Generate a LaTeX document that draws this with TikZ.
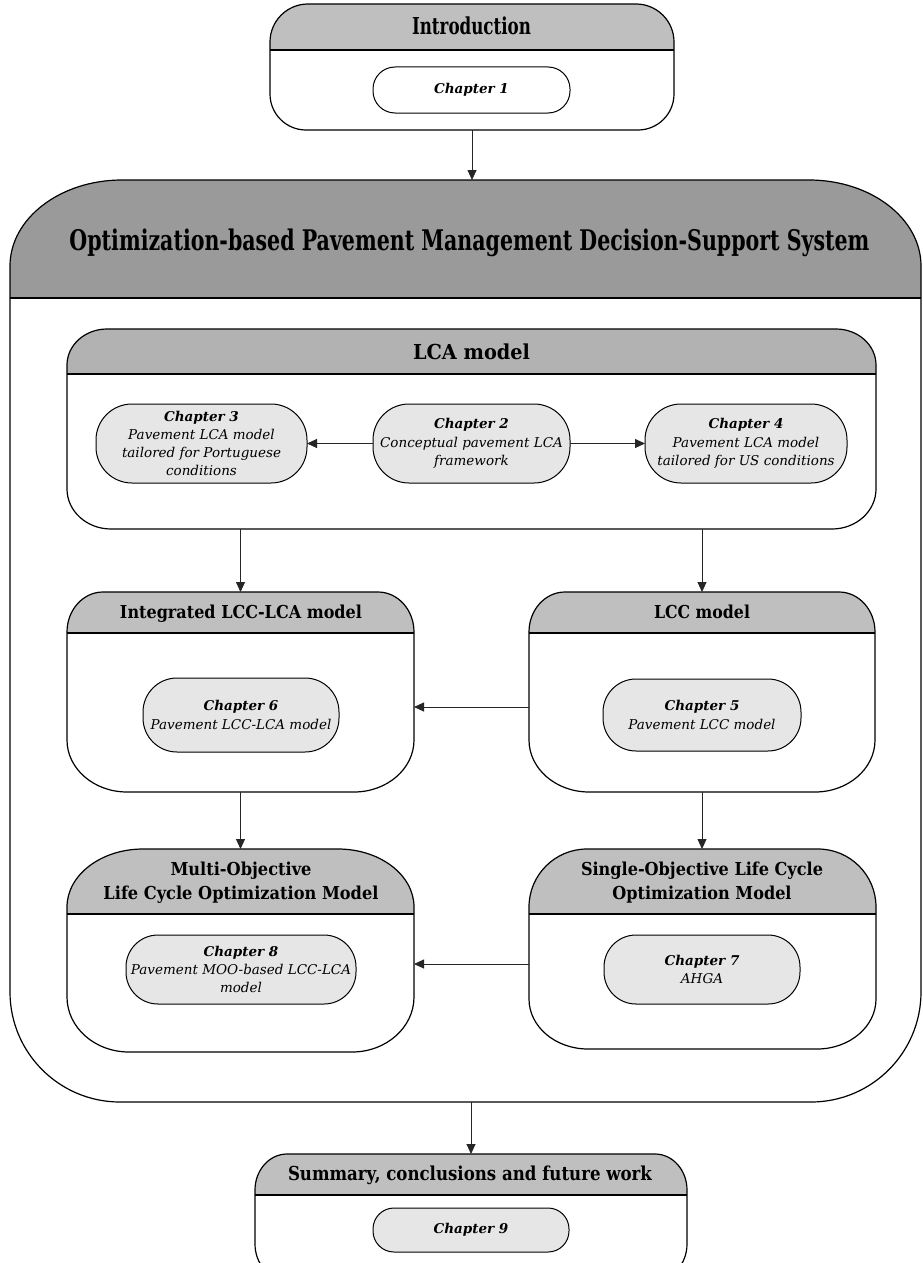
\documentclass[tikz,border=0pt]{standalone}
\usepackage{fontspec}
\setmainfont{DejaVu Serif}
\usepackage{graphicx}
\usetikzlibrary{arrows.meta}
\definecolor{hdrgray}{HTML}{BFBFBF}
\definecolor{biggray}{HTML}{9A9A9A}
\definecolor{lcagray}{HTML}{B2B2B2}
\definecolor{pillgray}{HTML}{E6E6E6}
\newcommand{\bxdims}[9]{\def\Bl{#1}\def\Bt{#2}\def\Br{#3}\def\Bb{#4}\def\Bd{#5}\def\Rxt{#6}\def\Ryt{#7}\def\Rxb{#8}\def\Ryb{#9}}
\newcommand{\drawbx}[2]{%
  \fill[white] (\Bl,\Bt+\Ryt) .. controls (\Bl,\Bt+0.448*\Ryt) and (\Bl+0.448*\Rxt,\Bt) .. (\Bl+\Rxt,\Bt)
    -- (\Br-\Rxt,\Bt) .. controls (\Br-0.448*\Rxt,\Bt) and (\Br,\Bt+0.448*\Ryt) .. (\Br,\Bt+\Ryt)
    -- (\Br,\Bb-\Ryb) .. controls (\Br,\Bb-0.448*\Ryb) and (\Br-0.448*\Rxb,\Bb) .. (\Br-\Rxb,\Bb)
    -- (\Bl+\Rxb,\Bb) .. controls (\Bl+0.448*\Rxb,\Bb) and (\Bl,\Bb-0.448*\Ryb) .. (\Bl,\Bb-\Ryb) -- cycle;
  \fill[#1] (\Bl,\Bd) -- (\Bl,\Bt+\Ryt) .. controls (\Bl,\Bt+0.448*\Ryt) and (\Bl+0.448*\Rxt,\Bt) .. (\Bl+\Rxt,\Bt)
    -- (\Br-\Rxt,\Bt) .. controls (\Br-0.448*\Rxt,\Bt) and (\Br,\Bt+0.448*\Ryt) .. (\Br,\Bt+\Ryt)
    -- (\Br,\Bd) -- cycle;
  \draw[boxline] (\Bl,\Bt+\Ryt) .. controls (\Bl,\Bt+0.448*\Ryt) and (\Bl+0.448*\Rxt,\Bt) .. (\Bl+\Rxt,\Bt)
    -- (\Br-\Rxt,\Bt) .. controls (\Br-0.448*\Rxt,\Bt) and (\Br,\Bt+0.448*\Ryt) .. (\Br,\Bt+\Ryt)
    -- (\Br,\Bb-\Ryb) .. controls (\Br,\Bb-0.448*\Ryb) and (\Br-0.448*\Rxb,\Bb) .. (\Br-\Rxb,\Bb)
    -- (\Bl+\Rxb,\Bb) .. controls (\Bl+0.448*\Rxb,\Bb) and (\Bl,\Bb-0.448*\Ryb) .. (\Bl,\Bb-\Ryb) -- cycle;
  \draw[divline] (\Bl,\Bd) -- (\Br,\Bd);
  \node[boxanchor, minimum width={\Br-\Bl}, minimum height={\Bb-\Bt}] (#2) at ({(\Bl+\Br)/2},{(\Bt+\Bb)/2}) {};
}
\newcommand{\hd}[3]{\resizebox{#1pt}{\height}{\fontsize{#2pt}{24pt}\selectfont\bfseries\begin{tabular}{@{}c@{}}#3\end{tabular}}}
\begin{document}
\begin{tikzpicture}[x=1pt,y=-1pt,
  boxline/.style={draw=black, line width=1.2pt},
  divline/.style={draw=black, line width=1.5pt},
  boxanchor/.style={draw=none, rectangle, inner sep=0pt, outer sep=0pt},
  hdtext/.style={inner sep=0pt, text=black},
  pill/.style={draw=black, line width=1pt, fill=pillgray, rectangle, rounded corners=#1, inner sep=0pt, outer sep=0pt,
    font=\fontsize{13.5pt}{18.3pt}\selectfont\itshape, align=center},
  arr/.style={-{Triangle[length=10pt,width=9pt]}, line width=0.9pt, draw=black!85}
]
\useasboundingbox (0,0) rectangle (923,1263);
\clip (0,0) rectangle (923,1263);

% big container
\bxdims{10}{180}{921}{1102}{298}{112}{86}{110}{110}
\drawbx{biggray}{big}
\node[hdtext] (bigT) at (469.5,243) {\hd{800}{28.4}{Optimization-based Pavement Management Decision-Support System}};

% introduction
\bxdims{270}{4}{674}{130}{50}{38}{38}{36}{36}
\drawbx{hdrgray}{intro}
\node[hdtext] (introT) at (471.5,29) {\hd{119}{23.3}{Introduction}};

% LCA model
\bxdims{67}{329}{876}{529}{374}{40}{36}{44}{40}
\drawbx{lcagray}{lca}
\node[hdtext] (lcaT) at (471.5,355) {\hd{117}{20.6}{LCA model}};

% Integrated
\bxdims{67}{592}{414}{792}{633}{36}{40}{60}{52}
\drawbx{hdrgray}{integ}
\node[hdtext] (integT) at (241,614) {\hd{242}{17.8}{Integrated LCC-LCA model}};

% LCC
\bxdims{529}{592}{875}{792}{633}{36}{40}{60}{52}
\drawbx{hdrgray}{lcc}
\node[hdtext] (lccT) at (702,614) {\hd{96}{17.8}{LCC model}};

% Multi-objective
\bxdims{67}{849}{414}{1052}{914}{76}{58}{62}{55}
\drawbx{hdrgray}{multi}
\node[hdtext] (multiT) at (241,883) {\hd{275}{17.8}{Multi-Objective\\Life Cycle Optimization Model}};

% Single-objective
\bxdims{529}{849}{876}{1049}{914}{58}{58}{59}{50}
\drawbx{hdrgray}{single}
\node[hdtext] (singleT) at (702,883) {\hd{242}{17.8}{Single-Objective Life Cycle\\Optimization Model}};

% Summary
\bxdims{255}{1154}{687}{1280}{1195}{32}{36}{32}{36}
\drawbx{hdrgray}{summ}
\node[hdtext] (summT) at (470,1176) {\hd{364}{19.2}{Summary, conclusions and future work}};

% chapter pills
\node[pill=22pt, fill=white, minimum width=197pt, minimum height=46pt] (ch1) at (471.5,90) {\textbf{Chapter 1}};
\node[pill=36pt, minimum width=211pt, minimum height=79pt] (ch3) at (201.5,443.5) {\textbf{Chapter 3}\\Pavement LCA model\\tailored for Portuguese\\conditions};
\node[pill=36pt, minimum width=197pt, minimum height=79pt] (ch2) at (471.5,443.5) {\textbf{Chapter 2}\\Conceptual pavement LCA\\framework};
\node[pill=36pt, minimum width=202pt, minimum height=79pt] (ch4) at (746,443.5) {\textbf{Chapter 4}\\Pavement LCA model\\tailored for US conditions};
\node[pill=34pt, minimum width=196pt, minimum height=74pt] (ch6) at (241,715) {\textbf{Chapter 6}\\Pavement LCC-LCA model};
\node[pill=33pt, minimum width=198pt, minimum height=72pt] (ch5) at (702,715) {\textbf{Chapter 5}\\Pavement LCC model};
\node[pill=32pt, minimum width=230pt, minimum height=69pt] (ch8) at (241,969.5) {\textbf{Chapter 8}\\Pavement MOO-based LCC-LCA\\model};
\node[pill=32pt, minimum width=196pt, minimum height=69pt] (ch7) at (702,969.5) {\textbf{Chapter 7}\\AHGA};
\node[pill=21pt, minimum width=196pt, minimum height=44pt] (ch9) at (471,1230) {\textbf{Chapter 9}};

% connectors
\draw[arr] (intro.south) -- (intro.south |- big.north);
\draw[arr] (ch2.west) -- (ch3.east);
\draw[arr] (ch2.east) -- (ch4.west);
\draw[arr] (integ.north |- lca.south) -- (integ.north);
\draw[arr] (lcc.north |- lca.south) -- (lcc.north);
\draw[arr] (lcc.west |- 0,707) -- (integ.east |- 0,707);
\draw[arr] (integ.south) -- (integ.south |- multi.north);
\draw[arr] (lcc.south) -- (lcc.south |- single.north);
\draw[arr] (single.west |- 0,964) -- (multi.east |- 0,964);
\draw[arr] (summ.north |- big.south) -- (summ.north);
\end{tikzpicture}
\end{document}
